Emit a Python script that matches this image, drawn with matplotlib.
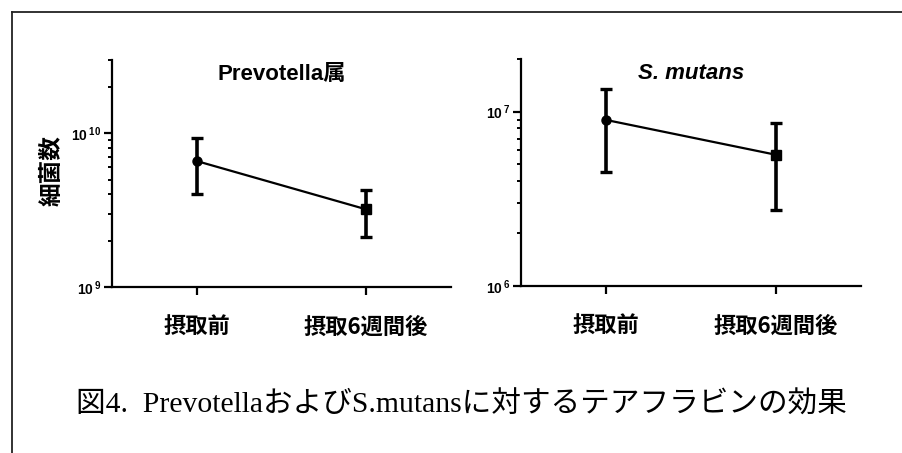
import matplotlib
matplotlib.use("Agg")
import math
import matplotlib.pyplot as plt
from matplotlib.ticker import LogLocator, NullFormatter, FuncFormatter
from matplotlib.lines import Line2D

plt.rcParams['mathtext.fontset'] = 'custom'
plt.rcParams['mathtext.rm'] = 'Liberation Sans'
plt.rcParams['mathtext.bf'] = 'Liberation Sans:bold'

# ---- data ----
categories = ["摂取前", "摂取6週間後"]
prevotella_mean = [6.6e9, 3.2e9]
prevotella_upper = [9.3e9, 4.3e9]
prevotella_lower = [4.05e9, 2.13e9]
mutans_mean = [8.95e6, 5.65e6]
mutans_upper = [1.35e7, 8.65e6]
mutans_lower = [4.5e6, 2.71e6]
titles = ["Prevotella属", "S. mutans"]
ylabel = "細菌数"
caption = "図4.  PrevotellaおよびS.mutansに対するテアフラビンの効果"

W, H = 902, 453
fig = plt.figure(figsize=(W / 100, H / 100), dpi=100)

def fx(px):
    return px / W

def fy(py):
    return 1 - py / H

ax1 = fig.add_axes([fx(112), fy(287), fx(451 - 112), (287 - 60) / H])
ax2 = fig.add_axes([fx(521), fy(286), fx(861 - 521), (286 - 59) / H])

cjk_bold = ['Liberation Sans', 'Noto Sans CJK JP']

def sci_fmt(v, pos):
    e = int(round(math.log10(v)))
    return r"$\mathbf{10}\,^{\mathbf{%d}}$" % e

def draw(ax, means, upper, lower, ylim, title, italic):
    x = list(range(len(categories)))
    yerr = [[m - l for m, l in zip(means, lower)], [u - m for m, u in zip(means, upper)]]
    ax.plot(x, means, color='black', lw=1.6, zorder=2)
    markers = ['o', 's']
    for i in x:
        ax.errorbar([x[i]], [means[i]], yerr=[[yerr[0][i]], [yerr[1][i]]],
                    fmt=markers[i], color='black', ms=6.5, elinewidth=2.6,
                    capsize=4.2, capthick=2.4, zorder=3)
    ax.set_yscale('log')
    ax.set_ylim(*ylim)
    ax.set_xlim(-0.5, 1.5)
    ax.set_xticks(x)
    ax.set_xticklabels(categories, fontfamily=['Noto Sans CJK JP'], fontweight='bold', fontsize=16)
    ax.yaxis.set_major_locator(LogLocator(base=10, numticks=10))
    ax.yaxis.set_minor_locator(LogLocator(base=10, subs=range(2, 10), numticks=20))
    ax.yaxis.set_major_formatter(FuncFormatter(sci_fmt))
    ax.yaxis.set_minor_formatter(NullFormatter())
    for s in ['top', 'right']:
        ax.spines[s].set_visible(False)
    for s in ['left', 'bottom']:
        ax.spines[s].set_linewidth(1.6)
    ax.tick_params(axis='y', which='major', length=5.5, width=1.6, pad=2, labelsize=10)
    ax.tick_params(axis='y', which='minor', length=3.2, width=1.4)
    ax.tick_params(axis='x', which='major', length=5.5, width=1.6, pad=15)
    ax.text(0.5, 0.935, title, transform=ax.transAxes, ha='center', va='center',
            fontsize=16, fontweight='bold', fontstyle='italic' if italic else 'normal',
            fontfamily=cjk_bold)

draw(ax1, prevotella_mean, prevotella_upper, prevotella_lower, (1e9, 3e10), titles[0], False)
draw(ax2, mutans_mean, mutans_upper, mutans_lower, (1e6, 2e7), titles[1], True)

fig.text(fx(52), fy(171), ylabel, rotation=90, ha='center', va='center',
         fontsize=17, fontweight='bold', fontfamily=['Noto Sans CJK JP'])

fig.text(fx(461.5), fy(405), caption, ha='center', va='center', fontsize=21.3,
         fontfamily=['Liberation Serif', 'Noto Sans CJK JP'])

# page frame (left and top edges)
fig.add_artist(Line2D([fx(11.5), fx(11.5)], [0, fy(11.5)], color='#222222', lw=1.3,
                      transform=fig.transFigure))
fig.add_artist(Line2D([fx(11.5), 1], [fy(11.5), fy(11.5)], color='#222222', lw=1.3,
                      transform=fig.transFigure))

fig.savefig("out.png", dpi=100)
